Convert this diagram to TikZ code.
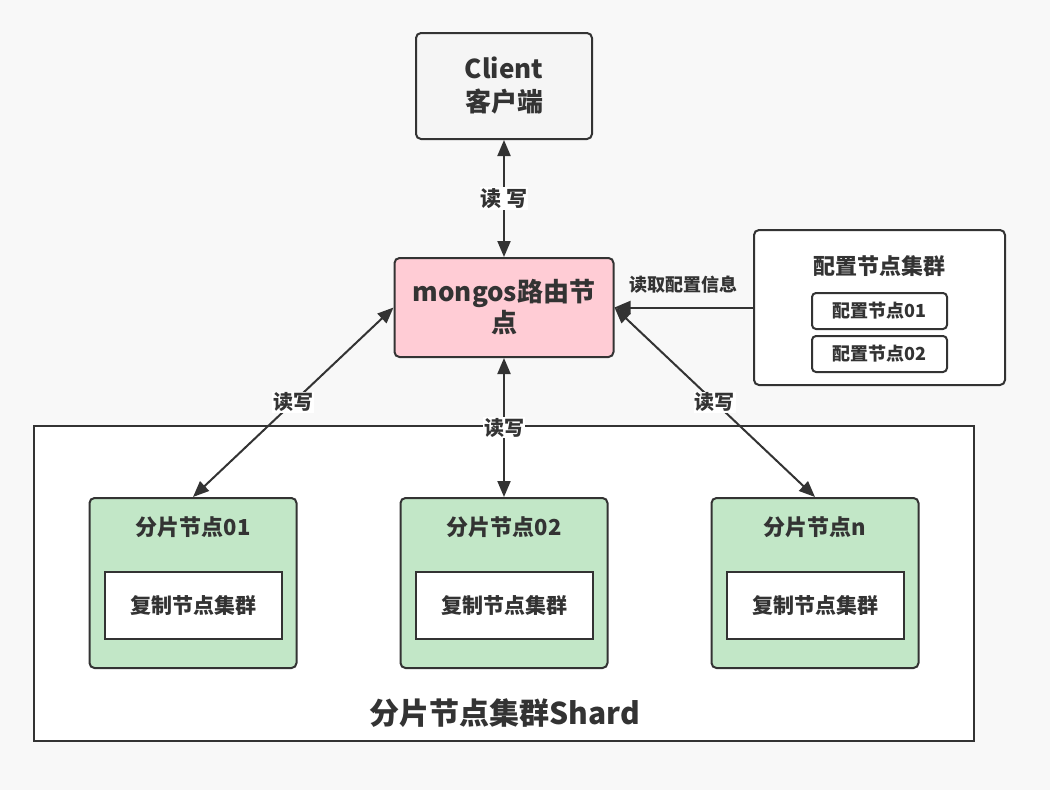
\documentclass[tikz,border=0pt]{standalone}
\usepackage{fontspec}
\setmainfont{Noto Sans CJK SC}
\usetikzlibrary{positioning,arrows.meta}

\definecolor{bg}{HTML}{F8F8F8}
\definecolor{ln}{HTML}{333333}
\definecolor{pinkfill}{HTML}{FFCCD5}
\definecolor{greenfill}{HTML}{C2E7C7}
\definecolor{clientfill}{HTML}{F5F5F5}

\newcommand{\fs}[1]{\fontsize{#1}{#1}\selectfont\bfseries}

\begin{document}
\begin{tikzpicture}[x=1pt,y=-1pt,line width=2pt,node distance=311pt,
    >={Triangle[length=16pt,width=13pt]},
    box/.style={draw=ln,rounded corners=5pt,text=ln,align=center,inner sep=0pt},
    sq/.style={draw=ln,fill=white,text=ln,align=center,inner sep=0pt},
    shard/.style={box,fill=greenfill,minimum width=207pt,minimum height=170pt},
    repl/.style={sq,minimum width=177pt,minimum height=67pt,font=\fs{21}},
    ttl/.style={text=ln,inner sep=0pt,font=\fs{22}},
    rw/.style={draw=ln,<->},
    lbl/.style={fill=white,text=ln,inner sep=1pt,font=\fs{20}}]

  \fill[bg] (0,0) rectangle (1050,790);

  % shard cluster
  \node[sq,minimum width=940pt,minimum height=315pt] (shard) at (504,583.5) {};
  \node[text=ln,font=\fs{30}] (shardttl) at (505,713) {分片节点集群Shard};

  \node[shard] (s1) at (193,583) {};
  \node[shard] (s2) [right of=s1] {};
  \node[shard] (sn) [right of=s2] {};

  \node[ttl] (t1) at (s1.north) [yshift=-30pt] {分片节点01};
  \node[ttl] (t2) at (s2.north) [yshift=-30pt] {分片节点02};
  \node[ttl] (tn) at (sn.north) [yshift=-30pt] {分片节点n};

  \node[repl] (r1) at (s1.center) [yshift=-22.5pt] {复制节点集群};
  \node[repl] (r2) at (s2.center) [yshift=-22.5pt] {复制节点集群};
  \node[repl] (rn) at (sn.center) [yshift=-22.5pt] {复制节点集群};

  % client and router
  \node[box,fill=clientfill,minimum width=176pt,minimum height=106pt,
        font=\fontsize{26}{33}\selectfont\bfseries] (client) at (504,86) {Client\\客户端};
  \node[box,fill=pinkfill,minimum width=219pt,minimum height=99pt,
        font=\fontsize{26}{31}\selectfont\bfseries] (mongos) at (504,307.5) {mongos路由节\\点};

  % config servers
  \node[box,fill=white,minimum width=251pt,minimum height=155pt] (cfg) at (879.5,307.5) {};
  \node[ttl,font=\fs{22}] (cfgttl) at (cfg.north) [yshift=-37pt] {配置节点集群};
  \node[box,fill=white,rounded corners=4pt,minimum width=135pt,minimum height=36pt,
        font=\fs{18}] (c1) at (879.5,311) {配置节点01};
  \node[box,fill=white,rounded corners=4pt,minimum width=135pt,minimum height=36pt,
        font=\fs{18}] (c2) at (879.5,354) {配置节点02};

  % connectors
  \path (client) edge[rw] node[lbl,font=\fs{21}] {读 写} (mongos);
  \path (mongos.west) edge[rw] node[lbl] {读写} (s1.north);
  \path (mongos) edge[rw] node[lbl] {读写} (s2);
  \path (mongos.east) edge[rw] node[lbl] {读写} (sn.north);
  \path (cfg) edge[draw=ln,->] node[above=13pt,text=ln,inner sep=0pt,font=\fs{18}] {读取配置信息} (mongos);
\end{tikzpicture}
\end{document}
